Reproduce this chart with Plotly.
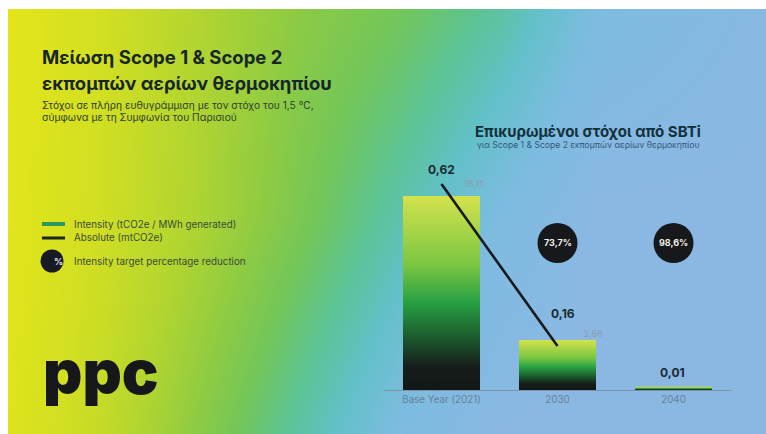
import plotly.graph_objects as go

# ---------------- data ----------------
categories = ["Base Year (2021)", "2030", "2040"]
intensity = [0.62, 0.16, 0.01]          # tCO2e / MWh generated (bars)
absolute = [18.11, 3.86]                # mtCO2e (line, base year -> 2030)
reduction_pct = [None, 73.7, 98.6]      # intensity target reduction

title_lines = ["Μείωση Scope 1 & Scope 2", "εκπομπών αερίων θερμοκηπίου"]
subtitle_lines = ["Στόχοι σε πλήρη ευθυγράμμιση με τον στόχο του 1,5 °C,",
                  "σύμφωνα με τη Συμφωνία του Παρισιού"]
legend_items = ["Intensity (tCO2e / MWh generated)", "Absolute (mtCO2e)",
                "Intensity target percentage reduction"]
sbti_title = "Επικυρωμένοι στόχοι από SBTi"
sbti_sub = "για Scope 1 & Scope 2 εκπομπών αερίων θερμοκηπίου"

# background gradient grid (colour index)
bg_x = [-40, 100, 200, 300, 400, 500, 600, 820]
bg_y = [-20, 214, 460]
bg_t = [
    [0.02, 0.25, 0.48, 0.70, 0.90, 1.0, 1.0, 1.0],   # bottom
    [0.00, 0.19, 0.35, 0.52, 0.70, 0.88, 1.0, 1.0],  # middle
    [0.00, 0.17, 0.33, 0.45, 0.52, 0.64, 0.86, 1.0], # top
]
bg_cs = [[0.0, "#ebe816"], [0.18, "#d2df22"], [0.33, "#b2d530"], [0.45, "#8fcb42"],
         [0.55, "#72c65a"], [0.65, "#5cc394"], [0.75, "#62c0c8"], [0.87, "#7dbce0"],
         [1.0, "#8bb8e3"]]
bar_cs = [[0.0, "#121716"], [0.12, "#151d1a"], [0.28, "#1c5e2e"], [0.45, "#27a043"],
          [0.65, "#7cc742"], [1.0, "#d3e24c"]]

W, H = 766, 434
def px(x):
    return x / W
def py(y):
    return 1 - y / H

fig = go.Figure()

# background
fig.add_trace(go.Heatmap(x=bg_x, y=bg_y, z=bg_t, zmin=0, zmax=1, colorscale=bg_cs,
                         zsmooth="best", showscale=False, hoverinfo="skip",
                         xaxis="x", yaxis="y"))

# bars with vertical gradient
hw = 0.332
for i, v in enumerate(intensity):
    fig.add_trace(go.Scatter(
        x=[i - hw, i + hw, i + hw, i - hw, i - hw], y=[0, 0, v, v, 0],
        fill="toself", mode="lines", line=dict(width=0),
        fillgradient=dict(type="vertical", colorscale=bar_cs),
        hoverinfo="skip", showlegend=False, xaxis="x2", yaxis="y2"))

# absolute line
fig.add_trace(go.Scatter(x=list(range(len(absolute))), y=absolute, mode="lines",
                         line=dict(color="#161c1e", width=2.6), hoverinfo="skip",
                         showlegend=False, xaxis="x2", yaxis="y3"))

annotations = []
FONT = "Inter"
# intensity labels
shifts = [26, 26, 14]
for i, v in enumerate(intensity):
    annotations.append(dict(x=i, y=v, xref="x2", yref="y2", text=f"{v:.2f}".replace(".", ","),
                            showarrow=False, yshift=shifts[i], xshift=[0, 5, -1][i],
                            font=dict(family=FONT, size=12, color="#1a2a30", weight=700)))
# absolute labels
for i, v in enumerate(absolute):
    annotations.append(dict(x=i, y=v, xref="x2", yref="y3", text=f"{v:.2f}".replace(".", ","),
                            showarrow=False, xshift=[32, 35][i], yshift=[1, 13][i],
                            font=dict(family=FONT, size=9.5, color="#8c9cae")))

shapes = []
# reduction circles
for i, r in enumerate(reduction_pct):
    if r is None:
        continue
    shapes.append(dict(type="circle", xref="x2", yref="paper", xsizemode="pixel",
                       ysizemode="pixel", xanchor=i, yanchor=py(243), x0=-20, x1=20,
                       y0=-20, y1=20, fillcolor="#16181c", line=dict(width=0)))
    annotations.append(dict(x=i, y=py(243), xref="x2", yref="paper",
                            text=f"{r:.1f}%".replace(".", ","), showarrow=False,
                            font=dict(family=FONT, size=9, color="#f2efe6", weight=700)))

# titles
for k, (t, yy) in enumerate(zip(title_lines, [57, 83])):
    annotations.append(dict(x=px(40), y=py(yy), xref="paper", yref="paper", text=t,
                            xanchor="left", yanchor="middle", showarrow=False,
                            font=dict(family=FONT, size=18.5, color="#17262a", weight=700)))
for t, yy in zip(subtitle_lines, [106, 117]):
    annotations.append(dict(x=px(40), y=py(yy), xref="paper", yref="paper", text=t,
                            xanchor="left", yanchor="middle", showarrow=False,
                            font=dict(family=FONT, size=10.2, color="#2f3d2c")))
annotations.append(dict(x=px(473), y=py(131), xref="paper", yref="paper", text=sbti_title,
                        xanchor="left", yanchor="middle", showarrow=False,
                        font=dict(family=FONT, size=15, color="#13303a", weight=700)))
annotations.append(dict(x=px(475), y=py(145), xref="paper", yref="paper", text=sbti_sub,
                        xanchor="left", yanchor="middle", showarrow=False,
                        font=dict(family=FONT, size=8.6, color="#35587a")))

# legend
leg_y = [224, 238, 261]
for t, yy in zip(legend_items, leg_y):
    annotations.append(dict(x=px(72), y=py(yy), xref="paper", yref="paper", text=t,
                            xanchor="left", yanchor="middle", showarrow=False,
                            font=dict(family=FONT, size=9.8, color="#3a4a38")))
shapes.append(dict(type="line", xref="paper", yref="paper", x0=px(42), x1=px(65),
                   y0=py(224), y1=py(224), line=dict(color="#2a9a5c", width=4)))
shapes.append(dict(type="line", xref="paper", yref="paper", x0=px(42), x1=px(65),
                   y0=py(238), y1=py(238), line=dict(color="#1c2420", width=3)))
shapes.append(dict(type="circle", xref="paper", yref="paper", xsizemode="pixel",
                   ysizemode="pixel", xanchor=px(52), yanchor=py(261), x0=-11.5, x1=11.5,
                   y0=-11.5, y1=11.5, fillcolor="#171a24", line=dict(width=0)))
annotations.append(dict(x=px(52), y=py(261), xref="paper", yref="paper", text="%",
                        showarrow=False, font=dict(family=FONT, size=9, color="#e8e8f0",
                                                   weight=700)))

# logo
annotations.append(dict(x=px(41), y=py(372), xref="paper", yref="paper", text="ppc",
                        xanchor="left", yanchor="middle", showarrow=False,
                        font=dict(family=FONT, size=61, color="#15171a", weight=900)))

# white border
shapes.append(dict(type="rect", xref="paper", yref="paper", x0=0, x1=px(8), y0=0, y1=1,
                   fillcolor="white", line=dict(width=0), layer="above"))
shapes.append(dict(type="rect", xref="paper", yref="paper", x0=0, x1=1, y0=py(9), y1=1,
                   fillcolor="white", line=dict(width=0), layer="above"))

x_dom = [px(383.5), px(731.5)]
y_dom = [py(390), py(150)]
fig.update_layout(
    width=W, height=H, margin=dict(l=0, r=0, t=0, b=0),
    paper_bgcolor="white", plot_bgcolor="rgba(0,0,0,0)", showlegend=False,
    xaxis=dict(domain=[0, 1], range=[0, W], visible=False, fixedrange=True),
    yaxis=dict(domain=[0, 1], range=[0, H], visible=False, fixedrange=True),
    xaxis2=dict(domain=x_dom, range=[-0.5, 2.5], anchor="y2", tickvals=[0, 1, 2],
                ticktext=categories, showgrid=False, zeroline=False, showline=True,
                linecolor="#7d92a8", linewidth=1, ticks="",
                tickfont=dict(family=FONT, size=9.8, color="#6a7f9c")),
    yaxis2=dict(domain=y_dom, range=[0, 0.767], anchor="x2", visible=False,
                showgrid=False, zeroline=False),
    yaxis3=dict(domain=y_dom, range=[0, 21.1], anchor="x2", overlaying="y2",
                visible=False, showgrid=False, zeroline=False),
    annotations=annotations, shapes=shapes,
)

fig.write_html("out.html")
